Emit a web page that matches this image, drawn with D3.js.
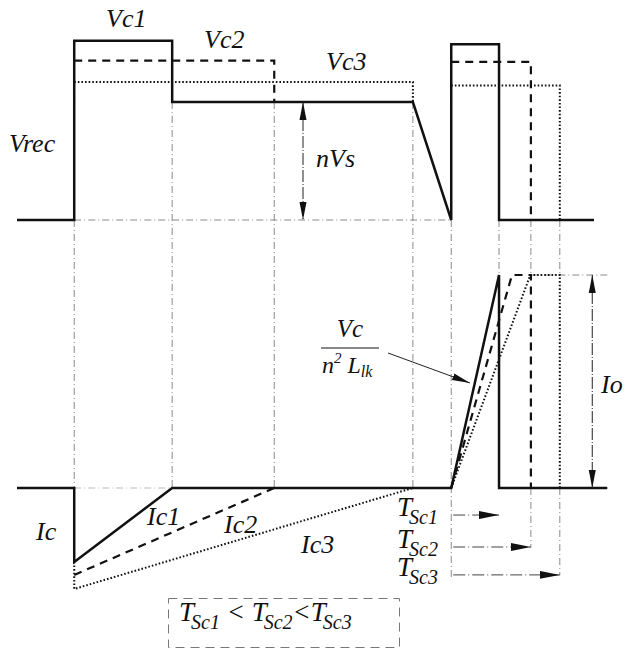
<!DOCTYPE html>
<html><head><meta charset="utf-8"><script src="https://cdn.jsdelivr.net/npm/d3@7"></script></head>
<body style="margin:0">
<script>
// switching instants (arbitrary time units)
const t0 = 9.7, t1 = 26.3, t2 = 43.6, t3 = 67.1, t4 = 73.6, t5 = 81.7, t6 = 87.1, t7 = 92.0
const tEnd = 97.8, tRamp2 = 83.9, tRamp3 = 87.0, tIo = 97.5

// Vrec waveforms, normalised to nVs = 1
const vrecSolid = [[0,0],[t0,0],[t0,1.52],[t1,1.52],[t1,1],[t3,1],[t4,0],[t4,1.49],[t5,1.49],[t5,0],[tEnd,0]]
const vrecDashed = [[[t0,1.35],[t2,1.35],[t2,1]], [[t4,1.34],[t6,1.34],[t6,0]]]
const vrecDotted = [[[t0,1.17],[t3,1.17],[t3,1]], [[t4,1.14],[t7,1.14],[t7,0]]]

// Ic waveforms, normalised to Io = 1
const icSolid = [[0,0],[t0,0],[t0,-0.347],[t1,0],[t4,0],[t5,1],[t5,0],[100,0]]
const icDashed = [[[t0,-0.408],[t2,0]], [[t4,0],[tRamp2,1],[t6,1],[t6,0]]]
const icDotted = [[[t0,-0.347],[t0,-0.474],[t3,0]], [[t4,0],[tRamp3,1],[t7,1],[t7,0]]]

// guide lines [t, panel, v from, panel, v to]
const guides = [[t0,'v',0,'i',0],[t1,'v',1,'i',0],[t2,'v',1,'i',0],[t3,'v',1,'i',-0.01],
  [t4,'v',0,'i',-0.42],[t5,'v',0,'i',1],[t6,'v',0,'i',1],[t7,'v',0,'i',1],
  [t6,'i',0,'i',-0.28],[t7,'i',0,'i',-0.41]]

const tscLabels = ['Sc1','Sc2','Sc3']
const tscEnds = [t5, t6, t7]
const tscLevels = [-0.127, -0.277, -0.408]

const width = 626, height = 652

const x = d3.scaleLinear().domain([0,100]).range([17,607])
const yV = d3.scaleLinear().domain([0,1]).range([220,102])
const yI = d3.scaleLinear().domain([0,1]).range([488,275])
const ys = {v: yV, i: yI}

const svg = d3.select('body').append('svg')
  .attr('width', width).attr('height', height)

const defs = svg.append('defs')
defs.append('marker').attr('id','headLong').attr('viewBox','0 0 18 8')
  .attr('refX',18).attr('refY',4).attr('markerWidth',18).attr('markerHeight',8)
  .attr('markerUnits','userSpaceOnUse').attr('orient','auto-start-reverse')
  .append('path').attr('d','M0,0.5L18,4L0,7.5Z').attr('fill','#111')
defs.append('marker').attr('id','headT').attr('viewBox','0 0 20 8')
  .attr('refX',20).attr('refY',4).attr('markerWidth',20).attr('markerHeight',8)
  .attr('markerUnits','userSpaceOnUse').attr('orient','auto')
  .append('path').attr('d','M0,0L20,4L0,8Z').attr('fill','#111')

// thin guides
const g = svg.append('g').attr('stroke','#8a8a8a').attr('stroke-width',1)
  .attr('stroke-dasharray','7,3,1,3').attr('fill','none')
guides.forEach(d => {
  g.append('line').attr('x1',x(d[0])).attr('x2',x(d[0]))
    .attr('y1',ys[d[1]](d[2])).attr('y2',ys[d[3]](d[4]))
})
g.append('line').attr('x1',x(t0)).attr('x2',x(t4)).attr('y1',yV(0)).attr('y2',yV(0))
g.append('line').attr('x1',x(tRamp3)).attr('x2',x(100.5)).attr('y1',yI(1)).attr('y2',yI(1))
g.append('line').attr('x1',x(t0)).attr('x2',x(t1)).attr('y1',yI(0)).attr('y2',yI(0)).attr('stroke','#bbb')
g.append('line').attr('x1',x(t5)).attr('x2',x(100.2)).attr('y1',yI(0)).attr('y2',yI(0))
  .attr('stroke-dasharray',null).attr('stroke','#666')

const lineV = d3.line().x(d => x(d[0])).y(d => yV(d[1]))
const lineI = d3.line().x(d => x(d[0])).y(d => yI(d[1]))

const w = svg.append('g').attr('fill','none').attr('stroke','#111')
  .attr('stroke-linejoin','miter')

function draw(sets, gen, style) {
  sets.forEach(s => {
    const p = w.append('path').attr('d', gen(s)).attr('stroke-width', style.w)
    if (style.dash) p.attr('stroke-dasharray', style.dash)
  })
}
const solid = {w: 2.5}, dashed = {w: 2.2, dash: '8,6'}, dotted = {w: 2, dash: '1.6,2'}

draw([vrecSolid], lineV, solid)
draw(vrecDashed, lineV, dashed)
draw(vrecDotted, lineV, dotted)
draw([icSolid], lineI, solid)
draw(icDashed, lineI, dashed)
draw(icDotted, lineI, dotted)

// nVs and Io dimension arrows
const a = svg.append('g').attr('stroke','#222').attr('stroke-width',1).attr('fill','none')
a.append('line').attr('x1',303).attr('x2',303).attr('y1',yV(1)).attr('y2',yV(0))
  .attr('stroke-dasharray','12,2,1,2')
  .attr('marker-start','url(#headLong)').attr('marker-end','url(#headLong)')
a.append('line').attr('x1',x(tIo)).attr('x2',x(tIo)).attr('y1',yI(1)).attr('y2',yI(0))
  .attr('stroke-dasharray','12,2,1,2')
  .attr('marker-start','url(#headLong)').attr('marker-end','url(#headLong)')
// slope pointer
a.append('line').attr('x1',388).attr('y1',353).attr('x2',470).attr('y2',383)
  .attr('marker-end','url(#headLong)')

// T_Sc arrows
tscEnds.forEach((t,i) => {
  a.append('line').attr('x1',x(t4)+2).attr('x2',x(t))
    .attr('y1',yI(tscLevels[i])).attr('y2',yI(tscLevels[i]))
    .attr('stroke','#444').attr('stroke-dasharray','12,3,1,3')
    .attr('marker-end','url(#headT)')
})

// labels
function label(px, py, size) {
  return svg.append('text').attr('x',px).attr('y',py)
    .style('font', `italic ${size}px "Liberation Serif", Times, serif`)
    .attr('fill','#111')
}
const txt = (s, px, py) => label(px, py, 26).text(s)

txt('Vc1', 106, 27)
txt('Vc2', 204, 48)
txt('Vc3', 326, 70)
txt('Vrec', 9, 152)
txt('nVs', 316, 167)
txt('Ic', 36, 540)
txt('Ic1', 147, 525)
txt('Ic2', 224, 533)
txt('Ic3', 301, 553)
txt('Io', 601, 393)

// slope fraction
label(350, 337, 25).attr('text-anchor','middle').text('Vc')
svg.append('line').attr('x1',321).attr('x2',379).attr('y1',348).attr('y2',348)
  .attr('stroke','#111').attr('stroke-width',1.2)
const fr = label(322, 373, 24)
fr.append('tspan').text('n')
fr.append('tspan').attr('dy',-10).style('font-size','15px').text('2')
fr.append('tspan').attr('dy',10).text(' L')
fr.append('tspan').attr('dy',4).style('font-size','16px').text('lk')

// T_Sc labels
tscLabels.forEach((s,i) => {
  const t = label(397, yI(tscLevels[i]) + 1, 27)
  t.append('tspan').text('T')
  t.append('tspan').attr('dy',8).attr('dx',-3).style('font-size','20px').text(s)
})

// comparison box
svg.append('rect').attr('x',168.5).attr('y',598.5).attr('width',231).attr('height',49)
  .attr('fill','none').attr('stroke','#777').attr('stroke-width',1).attr('stroke-dasharray','9,6')
const bt = label(179, 621, 27)
const parts = [['T',''],['Sc1','sub'],[' < T',''],['Sc2','sub'],['<T',''],['Sc3','sub']]
parts.forEach(p => {
  const sp = bt.append('tspan').text(p[0])
  if (p[1] === 'sub') sp.attr('dy',8).attr('dx',-3).style('font-size','20px')
  else sp.attr('dy', p[0] === 'T' ? 0 : -8)
})
</script>
</body>
</html>
